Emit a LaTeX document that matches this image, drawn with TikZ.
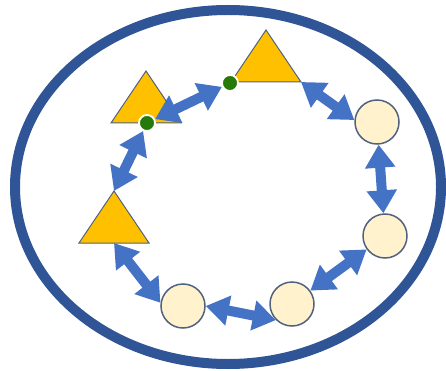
\documentclass[tikz,border=0pt]{standalone}
\usepackage{tikz}
\usetikzlibrary{arrows.meta}

\definecolor{ringblue}{RGB}{47,85,151}
\definecolor{arrblue}{RGB}{68,114,196}
\definecolor{triyellow}{RGB}{255,192,0}
\definecolor{cream}{RGB}{255,242,204}
\definecolor{slate}{RGB}{80,98,128}
\definecolor{dotgreen}{RGB}{38,122,10}

\begin{document}
\begin{tikzpicture}[
    x=1pt, y=-1pt,
    ring/.style={draw=ringblue, line width=10pt},
    tri/.style={draw=slate, fill=triyellow, line width=1pt, line join=miter},
    cnode/.style={circle, draw=slate, fill=cream, line width=1.5pt,
                  minimum size=44pt, inner sep=0pt},
    dot/.style={circle, draw=white, fill=dotgreen, line width=1.8pt,
                minimum size=16pt, inner sep=0pt},
    dbl/.style={{Triangle[width=29pt,length=23pt]}-{Triangle[width=29pt,length=23pt]},
                draw=arrblue, line width=10pt}
]
\useasboundingbox (0,0) rectangle (446,371);

% outer ring
\draw[ring] (228,187) ellipse [x radius=213, y radius=177];

% triangles
\coordinate (t1) at (146,123);
\coordinate (t2) at (266,82);
\coordinate (t3) at (114,243);
\coordinate (t2r) at (301,82);
\coordinate (t3a) at (114,191);
\draw[tri] (t1) ++(-35,0) -- ++(70,0) -- ++(-35,-52) -- cycle;
\draw[tri] (t2) ++(-35,0) -- ++(70,0) -- ++(-35,-52) -- cycle;
\draw[tri] (t3) ++(-35,0) -- ++(70,0) -- ++(-35,-52) -- cycle;

% circles
\node[cnode] (c1) at (377,122) {};
\node[cnode] (c2) at (385,236) {};
\node[cnode] (c3) at (292,304) {};
\node[cnode] (c4) at (183,306) {};

% junction dots
\node[dot] (d1) at (147,123) {};
\node[dot] (d2) at (230,83) {};

\draw[dbl] (d1) -- (d2);
\draw[dbl] (t2r) -- (c1.175);
\draw[dbl] (c1) -- (c2);
\draw[dbl] (c2) -- (c3);
\draw[dbl] (c4.east) -- (c3.225);
\draw[dbl] (c4.172) -- (t3);
\draw[dbl] (t3a) -- (d1);
\end{tikzpicture}
\end{document}
